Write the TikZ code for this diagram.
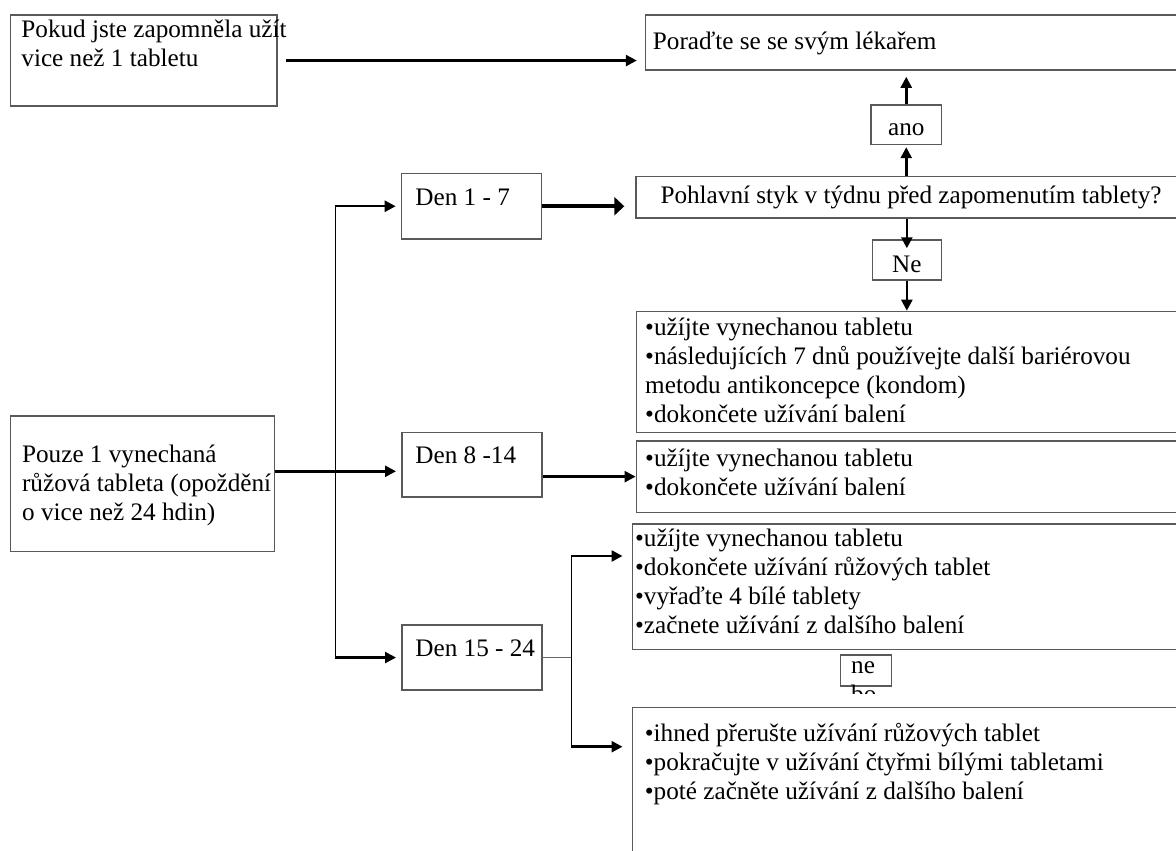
\documentclass[tikz,border=0pt]{standalone}
\usepackage{fontspec}
\setmainfont{Liberation Serif}
\usetikzlibrary{arrows.meta}
\newcommand{\tnr}{\fontsize{12.6}{14.5}\selectfont}
\newcommand{\txtlines}[1]{\begin{tabular}[t]{@{}l@{}}#1\end{tabular}}
\tikzset{
  box/.style={draw=black!65, line width=0.75pt, inner sep=0pt, anchor=north west},
  tag/.style={box, font=\tnr, text height=11pt, text depth=0pt},
  txt/.style={inner sep=0pt, anchor=base west, font=\tnr},
  link/.style={draw=black, line width=0.8pt},
  thinlink/.style={draw=black!60, line width=0.5pt},
  arrow/.style={-{Triangle[length=5.5pt,width=5.5pt]}, draw=black, line width=1.25pt},
  bigarrow/.style={-{Triangle[length=5pt,width=9pt]}, draw=black, line width=1.8pt}
}

\begin{document}
\begin{tikzpicture}[x=0.5pt,y=-0.5pt]
  \useasboundingbox (0,0) rectangle (1176,850);
  \clip (0,0) rectangle (1176,850);
  % boxes
  \node[box, minimum width=133.4pt, minimum height=45.5pt] (b1) at (9.6,14.3) {};
  \node[box, minimum width=280pt, minimum height=27.5pt] (doc) at (644.8,14.3) {};
  \node[tag, minimum width=35.1pt, minimum height=19.7pt] (ano) at (870.4,104.3) {ano};
  \node[box, font=\tnr, minimum width=275pt, minimum height=20.8pt] (q) at (635.3,175.7) {Pohlavní styk v týdnu před zapomenutím tablety?};
  \node[tag, text height=12.4pt, minimum width=34.6pt, minimum height=20pt] (ne) at (871.5,239.3) {Ne};
  \node[box, minimum width=280pt, minimum height=60.5pt] (rA) at (635.6,310.7) {};
  \node[box, minimum width=280pt, minimum height=35.9pt] (rB) at (635.6,440) {};
  \node[box, minimum width=131.9pt, minimum height=67.7pt] (pouze) at (9.9,415.3) {};
  \node[box, minimum width=70pt, minimum height=32.5pt] (d1) at (400.7,173) {};
  \node[box, minimum width=70pt, minimum height=32.3pt] (d2) at (401,431.7) {};
  \node[box, minimum width=70pt, minimum height=32.5pt] (d3) at (401,624.3) {};
  \node[box, minimum width=280pt, minimum height=62.7pt] (rC) at (631.5,523.3) {};
  \node[box, minimum width=25.5pt, minimum height=15.7pt] (nebo) at (839.8,654) {};
  \node[box, minimum width=280pt, minimum height=80pt] (rD) at (631.5,706.7) {};

  % texts
  \node[txt] (t1) at (21,37.3) {\txtlines{Pokud jste zapomněla užít\\vice než 1 tabletu}};
  \node[txt] (tdoc) at (652.5,50) {Poraďte se se svým lékařem};
  \node[txt] (tpouze) at (21.7,462.7) {\txtlines{Pouze 1 vynechaná\\růžová tableta (opoždění\\o vice než 24 hdin)}};
  \node[txt] (td1) at (415,205.7) {Den 1 - 7};
  \node[txt] (td2) at (415,463.3) {Den 8 -14};
  \node[txt] (td3) at (415,656.7) {Den 15 - 24};
  \node[txt] (tA) at (644.8,335) {\txtlines{•užíjte vynechanou tabletu\\•následujících 7 dnů používejte další bariérovou\\metodu antikoncepce (kondom)\\•dokončete užívání balení}};
  \node[txt] (tB) at (644.8,466.7) {\txtlines{•užíjte vynechanou tabletu\\•dokončete užívání balení}};
  \begin{scope}
    \clip (631.5,523.3) rectangle (1176,633.5);
    \node[txt] (tC) at (634.7,546) {\txtlines{•užíjte vynechanou tabletu\\•dokončete užívání růžových tablet\\•vyřaďte 4 bílé tablety\\•začnete užívání z dalšího balení}};
  \end{scope}
  \begin{scope}
    \clip (839.8,640) rectangle (891,693);
    \node[txt] (tnebo) at (850.8,673.3) {\txtlines{ne\\bo}};
  \end{scope}
  \node[txt] (tD) at (644.5,741.7) {\txtlines{•ihned přerušte užívání růžových tablet\\•pokračujte v užívání čtyřmi bílými tabletami\\•poté začněte užívání z dalšího balení}};

  % connectors
  \coordinate (fork) at (335.3,471.3);
  \coordinate (split) at (571.4,556);
  \coordinate (split2) at (571.4,746.7);
  \draw[arrow, shorten <=4pt, shorten >=4pt] (b1.east) -- (doc.west |- b1.east);
  \draw[arrow, shorten >=3pt] (ano.north) -- (doc.south -| ano.north);
  \draw[arrow, shorten >=1pt] (q.north -| ano.south) -- (ano.south);
  \draw[arrow, shorten >=-4.5pt] (q.south -| ne.north) -- (ne.north);
  \draw[arrow] (ne.south) -- (ne.south |- rA.north);
  \draw[bigarrow, shorten >=5.5pt] (d1.east) -- (q.west |- d1.east);
  \draw[link] (d1.west -| fork) -- (d3.west -| fork);
  \draw[arrow, shorten >=2.5pt] (d1.west -| fork) -- (d1.west);
  \draw[arrow, shorten >=2.5pt] (pouze.east |- fork) -- (d2.west |- fork);
  \draw[arrow, shorten >=2.5pt] (d3.west -| fork) -- (d3.west);
  \draw[arrow] (d2.east |- rB.west) -- (rB.west);
  \draw[thinlink] (d3.east) -- (d3.east -| split);
  \draw[link] (split) -- (split2);
  \draw[arrow, shorten >=4.5pt] (split) -- (rC.west |- split);
  \draw[arrow, shorten >=4.5pt] (split2) -- (rD.west |- split2);
\end{tikzpicture}
\end{document}
